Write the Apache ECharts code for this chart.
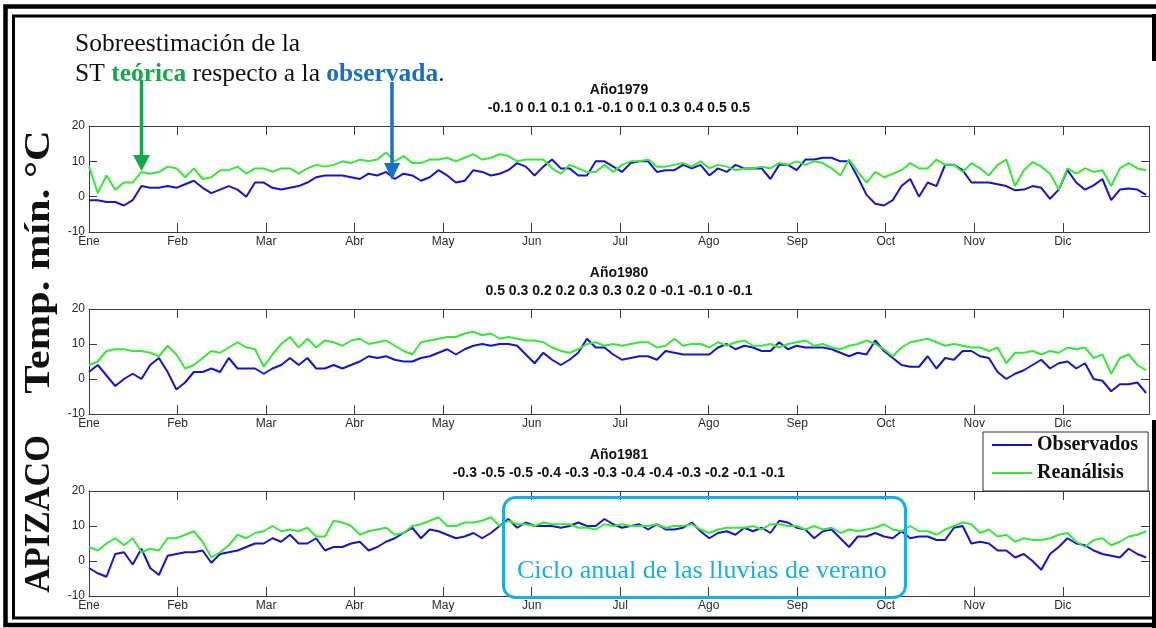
<!DOCTYPE html>
<html>
<head>
<meta charset="utf-8">
<script src="https://cdn.jsdelivr.net/npm/echarts@6/dist/echarts.min.js"></script>
<style>
  html, body { margin: 0; padding: 0; background: #ffffff; }
  #chart { width: 1156px; height: 628px; }
</style>
</head>
<body>
<div id="chart"></div>
<script>
// Month tick labels and the day spacing used for the time axis
const MONTHS = ['Ene', 'Feb', 'Mar', 'Abr', 'May', 'Jun', 'Jul', 'Ago', 'Sep', 'Oct', 'Nov', 'Dic'];
const MONTH_SPAN = 30.4;   // days between month ticks
const DAY_STEP = 3;        // days between stored samples
const YEARS = ['1979', '1980', '1981'];

// Monthly mean bias (reanalysis minus observed), printed under each year
const BIAS_1979 = [-0.1, 0, 0.1, 0.1, 0.1, -0.1, 0, 0.1, 0.3, 0.4, 0.5, 0.5];
const BIAS_1980 = [0.5, 0.3, 0.2, 0.2, 0.3, 0.3, 0.2, 0, -0.1, -0.1, 0, -0.1];
const BIAS_1981 = [-0.3, -0.5, -0.5, -0.4, -0.3, -0.3, -0.4, -0.4, -0.3, -0.2, -0.1, -0.1];

// Minimum temperature (°C), one value every DAY_STEP days from 1 January
const OBS_1979 = [
  -1, -1, -1.5, -1.5, -2.5, -1, 3, 2.5, 2.5, 3,
  2.5, 3.5, 4.5, 2.5, 1, 2, 3, 2, 0, 4,
  4, 2.5, 2, 2.5, 3, 4, 5.5, 6, 6, 6,
  5.5, 5, 6.5, 6, 7, 5, 6.5, 6, 4.5, 5.5,
  7.5, 6, 4, 4.5, 7.5, 7, 6, 6.5, 7.5, 9.5,
  8.5, 6, 8.5, 10.5, 8, 8, 6, 6, 10, 10,
  8.5, 7, 9.5, 10, 10, 7, 7.5, 7.5, 9, 8,
  9, 6, 8, 7, 9, 8, 8, 8, 5, 9,
  9, 7.5, 10.5, 10.5, 11, 11, 10, 10, 5.5, 0.5,
  -2, -2.5, -1, 3, 5, 0, 4, 3, 9, 9,
  7.5, 4, 4, 4, 3.5, 3, 1.8, 2, 3, 2.5,
  -0.6, 2, 7.5, 4, 2, 3.2, 5, -1, 2, 2.3,
  2, 0.5
];
const REA_1979 = [
  8.5, 1, 6, 2, 4, 4, 7, 6.5, 7, 8.5,
  8, 5.5, 8, 5, 5.5, 7.5, 7.5, 8.5, 6.5, 8,
  8, 7, 8, 8, 6.5, 8, 9, 8.5, 9, 10,
  9.5, 10.5, 10, 10.5, 12.5, 10, 11.5, 9.5, 9.5, 10.5,
  10.5, 11, 10, 11, 12, 10.5, 11, 12, 11.5, 10,
  10.5, 10.5, 10.5, 8, 6.5, 9, 8, 7, 7, 9,
  7, 9, 10, 10, 10.5, 8.5, 8.5, 9, 9.5, 8.5,
  10, 8, 9, 8.5, 7.5, 8, 8, 8.5, 8, 9.5,
  9, 10, 9, 10, 9.5, 8, 6, 10.5, 7, 4,
  7, 5.5, 6.5, 7.5, 9.5, 8, 8, 10.5, 9, 9,
  7, 9.5, 8, 6, 9, 10.5, 3, 7.5, 9.8, 8.5,
  6.5, 2, 8, 6.5, 8, 7, 7.5, 3, 8, 9.5,
  8, 7.5
];
const OBS_1980 = [
  2, 4, 1, -2, 0, 1.5, 0, 4, 6, 2,
  -3, -1, 2, 2, 3, 2, 6, 3, 3, 3,
  1.5, 3, 4, 6, 4, 6, 3, 3, 4, 3,
  4, 5, 6.5, 6, 6.5, 5.5, 5, 5, 6, 6.5,
  7.5, 8.5, 7, 8.5, 9.5, 10, 9.5, 10, 10, 9.5,
  7, 4.5, 7.5, 5.5, 4, 5.5, 7.5, 11.5, 9, 9,
  7, 5.5, 6, 6.5, 6.5, 5.5, 8, 7.5, 7, 7,
  7, 7, 9, 10, 8.5, 9.5, 9, 8, 8, 10.5,
  8.5, 9.5, 9, 9, 9, 8.5, 7.5, 6.5, 7.5, 7,
  11, 8, 6, 4, 3.5, 3.5, 6.5, 3, 6, 5.5,
  8, 8, 6.5, 6, 2, 0, 1.5, 2.5, 4, 5.5,
  3, 4.5, 5, 3, 4.5, 0, -0.5, -3.5, -1.5, -1.5,
  -1, -4
];
const REA_1980 = [
  4, 5, 8, 8.5, 8.5, 8, 8, 7.5, 6.5, 9.5,
  7, 3, 4, 6, 8, 7.5, 9, 10.5, 9, 8.5,
  3.5, 7, 10, 12, 9, 11.5, 9, 11, 10.5, 9.5,
  11, 11.5, 10, 10.5, 11, 9.5, 8, 7, 10.5, 11,
  11.5, 12, 12, 13, 13.5, 12.5, 13, 11.5, 12, 11.5,
  11, 11, 10.5, 9, 8, 7.5, 8.5, 10, 10.5, 9.5,
  10, 9.5, 10, 10.5, 10.5, 9, 9.5, 11.5, 9.5, 10,
  10, 9, 10.5, 9.5, 10.5, 11, 9.5, 9.5, 10, 9,
  10, 10.5, 11, 9.5, 10, 9, 8.5, 9.5, 10, 11,
  10, 8.5, 6.5, 9, 10.5, 11, 11.5, 10.5, 9.5, 10,
  9.5, 9, 9, 8, 9, 4.5, 7.5, 7.5, 8, 7,
  8, 7.5, 9, 8.5, 9, 6, 7, 1.5, 6, 7,
  4, 2.5
];
const OBS_1981 = [
  -2, -3.5, -4.5, 2, 2.5, -1, 3.5, -2, -4, 1.5,
  2, 2.5, 2.5, 3, -0.5, 2, 2.5, 3, 4, 5,
  5, 6.5, 5.5, 7.5, 5, 5, 6.5, 3, 4, 4,
  5, 5.5, 3, 4, 5.5, 6.5, 8, 9.5, 6.5, 9,
  8.5, 7.5, 6.5, 7, 8, 6.5, 8, 10, 12, 9.5,
  11, 10, 10, 10, 9.5, 10, 11, 10, 10, 12,
  10.5, 9.5, 10, 10.5, 9, 10.5, 9, 9, 9.5, 11,
  8.5, 6.5, 8, 8.5, 7.5, 9.5, 8.5, 9.5, 8, 11.5,
  11, 9.5, 9, 6.5, 8.5, 9, 6.5, 4, 7, 7,
  8, 7, 6.5, 8.5, 6.5, 7, 7, 6, 6, 9.5,
  10, 5, 5.5, 5, 3, 3, 1, 2, 0, -2.5,
  2, 4, 6.5, 5, 4.5, 3, 2, 1.5, 1, 3.5,
  2, 1
];
const REA_1981 = [
  4, 3, 5, 6.5, 4.5, 6.5, 2.5, 3.5, 3, 6.5,
  6.5, 7.5, 8.5, 5.5, 1, 2.5, 4.5, 7.5, 6.5, 8,
  8.5, 10, 8.5, 9, 8.5, 9.5, 7, 7, 11.5, 11,
  10, 7.5, 8.5, 9, 9.5, 7.5, 8, 10, 10.5, 11.5,
  12.5, 10, 10, 11, 11, 11.5, 12.5, 10, 11.5, 10.5,
  10.5, 10, 11, 10.5, 10.5, 10.5, 9.5, 9.5, 9, 10.5,
  10, 10.5, 10, 10, 10, 10.5, 9.5, 10, 10, 10.5,
  9, 8, 9, 9.5, 9.5, 9.5, 10, 9, 10.5, 10.5,
  10, 10, 9, 10, 9, 9.5, 8, 9, 8.5, 9,
  9.5, 10.5, 9, 8.5, 10, 8.5, 8.5, 7.5, 9, 10,
  11, 10.5, 8, 9, 7, 7.5, 5.5, 6.5, 6, 6,
  6.5, 7.5, 8, 5.5, 4, 6, 6.5, 4.5, 5.5, 7,
  7.5, 8.5
];

const OBSERVED = [OBS_1979, OBS_1980, OBS_1981];
const REANALYSIS = [REA_1979, REA_1980, REA_1981];
const BIASES = [BIAS_1979, BIAS_1980, BIAS_1981];

// Layout
const GRID_LEFT = 89;
const GRID_WIDTH = 1060;
const GRID_TOPS = [126, 309, 491];
const GRID_HEIGHTS = [106, 105, 105];
const BLUE = '#1616c8';
const GREEN = '#3ae63a';
const AXIS_COLOR = '#3c3c3c';
const LABEL_FONT = 'Liberation Sans';
const SERIF = '"Liberation Serif", "DejaVu Serif", serif';

const toPairs = arr => arr.map((v, i) => [i * DAY_STEP, v]);

const grid = [], xAxis = [], yAxis = [], series = [];
GRID_TOPS.forEach((top, k) => {
  grid.push({ left: GRID_LEFT, width: GRID_WIDTH, top: top, height: GRID_HEIGHTS[k], containLabel: false });

  const xCommon = {
    gridIndex: k, type: 'value', min: 0, max: 364, interval: MONTH_SPAN,
    axisLine: { show: true, onZero: false, lineStyle: { color: AXIS_COLOR, width: 1 } },
    axisTick: { show: true, inside: true, length: 9, lineStyle: { color: AXIS_COLOR, width: 1 } },
    splitLine: { show: false }
  };
  xAxis.push(Object.assign({}, xCommon, {
    position: 'bottom',
    axisLabel: {
      show: true, margin: 4, color: '#2a2a2a', fontFamily: LABEL_FONT, fontSize: 12,
      showMaxLabel: false, hideOverlap: false,
      formatter: v => MONTHS[Math.round(v / MONTH_SPAN)] || ''
    }
  }));
  xAxis.push(Object.assign({}, xCommon, { position: 'top', axisLabel: { show: false } }));

  const yCommon = {
    gridIndex: k, type: 'value', min: -10, max: 20, interval: 10,
    axisLine: { show: true, onZero: false, lineStyle: { color: AXIS_COLOR, width: 1 } },
    axisTick: { show: true, inside: true, length: 8, lineStyle: { color: AXIS_COLOR, width: 1 } },
    splitLine: { show: false }
  };
  yAxis.push(Object.assign({}, yCommon, {
    position: 'left',
    axisLabel: { show: true, margin: 4, color: '#2a2a2a', fontFamily: LABEL_FONT, fontSize: 12 }
  }));
  yAxis.push(Object.assign({}, yCommon, { position: 'right', axisLabel: { show: false } }));

  series.push({
    type: 'line', name: 'Observados', xAxisIndex: 2 * k, yAxisIndex: 2 * k,
    data: toPairs(OBSERVED[k]), symbol: 'none', z: 2,
    lineStyle: { color: BLUE, width: 2 }, itemStyle: { color: BLUE }
  });
  series.push({
    type: 'line', name: 'Reanálisis', xAxisIndex: 2 * k, yAxisIndex: 2 * k,
    data: toPairs(REANALYSIS[k]), symbol: 'none', z: 3,
    lineStyle: { color: GREEN, width: 2 }, itemStyle: { color: GREEN }
  });
});

// Year headings and monthly bias lines above each panel
const headings = [];
GRID_TOPS.forEach((top, k) => {
  const cx = GRID_LEFT + GRID_WIDTH / 2;
  headings.push({
    type: 'text', x: cx, y: top - 36,
    style: { text: 'Año' + YEARS[k], font: 'bold 14px "Liberation Sans"', fill: '#111',
             textAlign: 'center', textVerticalAlign: 'middle' }
  });
  headings.push({
    type: 'text', x: cx, y: top - 18,
    style: { text: BIASES[k].map(String).join(' '), font: 'bold 14px "Liberation Sans"', fill: '#111',
             textAlign: 'center', textVerticalAlign: 'middle' }
  });
});

const frame = [
  // outer and inner black border
  { type: 'rect', shape: { x: 5.5, y: 6.5, width: 1160, height: 618.5 },
    style: { fill: 'none', stroke: '#000', lineWidth: 4.5 }, z: 50 },
  { type: 'polyline', shape: { points: [[1156, 16], [13.5, 16], [13.5, 618], [1156, 618]] },
    style: { fill: 'none', stroke: '#000', lineWidth: 3 }, z: 50 },
  { type: 'line', shape: { x1: 1154, y1: 14, x2: 1154, y2: 61 },
    style: { stroke: '#000', lineWidth: 4 }, z: 50 },
  { type: 'line', shape: { x1: 1154, y1: 420, x2: 1154, y2: 628 },
    style: { stroke: '#000', lineWidth: 4 }, z: 50 }
];

const notes = [
  { type: 'text', x: 75, y: 44,
    style: { text: 'Sobreestimación de la', font: '25.5px ' + SERIF, fill: '#111', textVerticalAlign: 'middle' } },
  { type: 'text', x: 75, y: 74,
    style: {
      text: '{n|ST }{g|teórica}{n| respecto a la }{b|observada}{n|.}',
      textVerticalAlign: 'middle',
      rich: {
        n: { font: '25.5px ' + SERIF, fill: '#111' },
        g: { font: 'bold 25.5px ' + SERIF, fill: '#14a84a' },
        b: { font: 'bold 25.5px ' + SERIF, fill: '#1a6fc2' }
      }
    } },
  // arrows pointing at the reanalysis and observed curves
  { type: 'line', shape: { x1: 141.5, y1: 80, x2: 141.5, y2: 157 }, style: { stroke: '#14a84a', lineWidth: 3.5 }, z: 20 },
  { type: 'polygon', shape: { points: [[133, 155], [150, 155], [141.5, 171]] }, style: { fill: '#14a84a' }, z: 20 },
  { type: 'line', shape: { x1: 392, y1: 82, x2: 392, y2: 165 }, style: { stroke: '#1a72c4', lineWidth: 3.5 }, z: 20 },
  { type: 'polygon', shape: { points: [[384, 163], [400, 163], [392, 180]] }, style: { fill: '#1a72c4' }, z: 20 },
  // vertical axis caption
  { type: 'text', x: 40, y: 262, rotation: Math.PI / 2, scaleX: 1.18,
    style: { text: 'Temp. mín. °C', font: 'bold 36px ' + SERIF, fill: '#111', textAlign: 'center', textVerticalAlign: 'middle' } },
  { type: 'text', x: 40, y: 514, rotation: Math.PI / 2, scaleX: 0.95,
    style: { text: 'APIZACO', font: 'bold 36px ' + SERIF, fill: '#111', textAlign: 'center', textVerticalAlign: 'middle' } },
  // rainy-season box
  { type: 'rect', shape: { x: 503.5, y: 497.5, width: 402, height: 100, r: 12 },
    style: { fill: 'none', stroke: '#1aaee8', lineWidth: 3 }, z: 20 },
  { type: 'text', x: 517, y: 571,
    style: { text: 'Ciclo anual de las lluvias de verano', font: '26px ' + SERIF, fill: '#1aaee8', textVerticalAlign: 'middle' }, z: 20 }
];

const chart = echarts.init(document.getElementById('chart'), null, { renderer: 'canvas' });
chart.setOption({
  animation: false,
  backgroundColor: '#ffffff',
  grid: grid,
  xAxis: xAxis,
  yAxis: yAxis,
  series: series,
  legend: {
    data: ['Observados', 'Reanálisis'],
    orient: 'vertical', left: 983, top: 432,
    icon: 'rect', itemWidth: 40, itemHeight: 2, itemGap: 6,
    padding: [2, 10, 7, 9],
    backgroundColor: '#ffffff', borderColor: '#333', borderWidth: 1, borderRadius: 0,
    textStyle: { fontFamily: SERIF, fontWeight: 'bold', fontSize: 20, color: '#111', lineHeight: 22 },
    z: 30
  },
  graphic: frame.concat(headings, notes)
});
</script>
</body>
</html>
